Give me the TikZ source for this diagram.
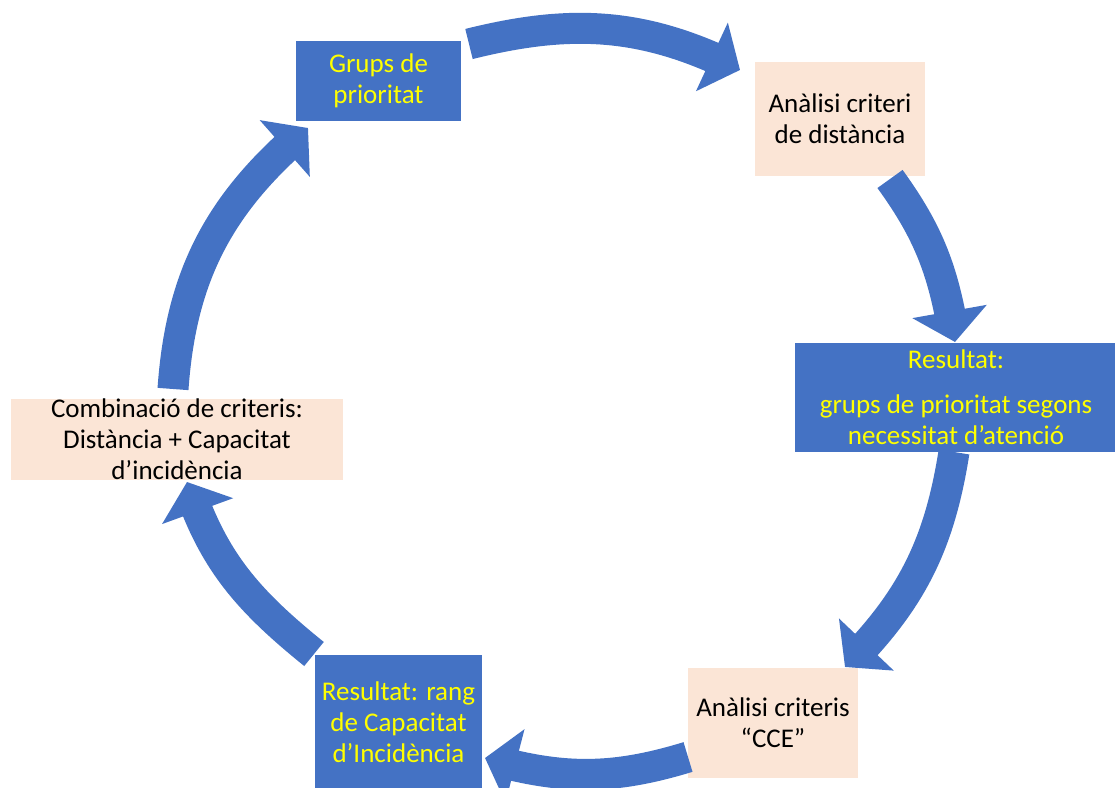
\documentclass[tikz,border=0pt]{standalone}
\usepackage{fontspec}
\setmainfont{Carlito}
\usetikzlibrary{arrows.meta,bending}
\definecolor{boxblue}{HTML}{4472C4}
\definecolor{peach}{HTML}{FBE5D6}
\definecolor{txtyellow}{HTML}{FFFF00}
\begin{document}
\begin{tikzpicture}[x=1pt,y=1pt,
  bluebox/.style={fill=boxblue, text=txtyellow, align=center, inner sep=0pt},
  peachbox/.style={fill=peach, text=black, align=center, inner sep=0pt},
  flow/.style={draw=boxblue, line width=31pt, -{Triangle[width=74pt,length=31pt]}},
  every node/.style={font=\fontsize{27}{31}\selectfont}
]
\clip (0,0) rectangle (1115,787);
\fill[white] (0,0) rectangle (1115,787);

\node[bluebox, minimum width=165pt, minimum height=80pt] (grups) at (378.5,706) {Grups de\\prioritat};
\node[peachbox, minimum width=170pt, minimum height=114pt] (dist) at (840,668) {Anàlisi criteri\\de distància};
\node[bluebox, minimum width=322pt, minimum height=109pt] (res1) at (956,389.5) {Resultat:\\[14pt]grups de prioritat segons\\necessitat d’atenció};
\node[peachbox, minimum width=170pt, minimum height=110pt] (cce) at (773,64) {Anàlisi criteris\\“CCE”};
\node[bluebox, minimum width=167pt, minimum height=135pt] (res2) at (398.5,64.5) {Resultat: rang\\de Capacitat\\d’Incidència};
\node[peachbox, minimum width=332pt, minimum height=81pt] (comb) at (177,347.5) {Combinació de criteris:\\Distància + Capacitat\\d’incidència};

\coordinate (a1s) at (469,743);
\coordinate (a1e) at (740,717);
\coordinate (a2s) at (890,608);
\coordinate (a2e) at (955,445);
\coordinate (a3s) at (954,335);
\coordinate (a3e) at (845,120);
\coordinate (a4s) at (688,30);
\coordinate (a4e) at (485,29);
\coordinate (a5s) at (314,133);
\coordinate (a5e) at (187,305);
\coordinate (a6s) at (173,398);
\coordinate (a6e) at (308,659);

\draw[flow] (a1s) to[out=14,in=153.5] (a1e);
\draw[flow] (a2s) to[out=-54,in=99] (a2e);
\draw[flow] (a3s) to[out=-99,in=45] (a3e);
\draw[flow] (a4s) to[out=-163,in=-16] (a4e);
\draw[flow] (a5s) to[out=141,in=-72] (a5e);
\draw[flow] (a6s) to[out=86,in=220] (a6e);
\end{tikzpicture}
\end{document}
